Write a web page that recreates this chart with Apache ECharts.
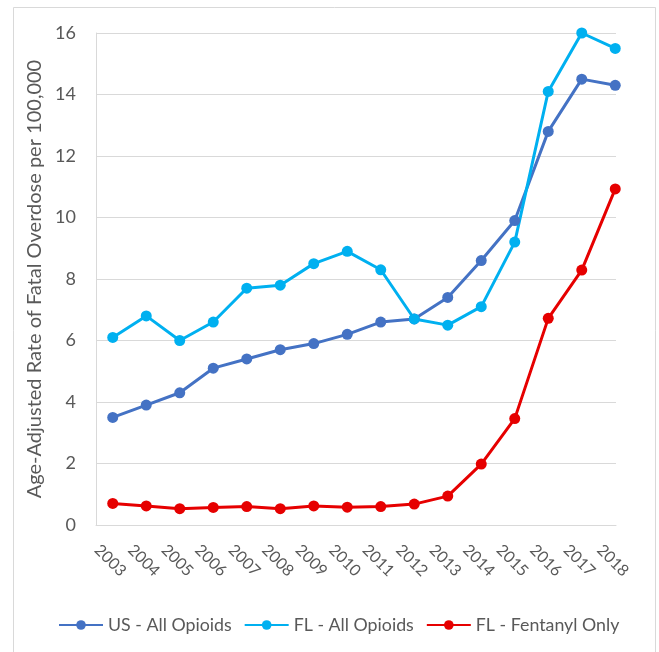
<!DOCTYPE html>
<html>
<head>
<meta charset="utf-8">
<script src="https://cdn.jsdelivr.net/npm/echarts@6/dist/echarts.min.js"></script>
<style>
  html, body { margin: 0; padding: 0; background: #fff; }
  #chart { width: 659px; height: 652px; }
</style>
</head>
<body>
<div id="chart"></div>
<script>
// Years on the category axis
const years = ['2003', '2004', '2005', '2006', '2007', '2008', '2009', '2010',
               '2011', '2012', '2013', '2014', '2015', '2016', '2017', '2018'];

// Age-adjusted fatal overdose rates per 100,000
const usAllOpioids = [3.5, 3.9, 4.3, 5.1, 5.4, 5.7, 5.9, 6.2, 6.6, 6.7, 7.4, 8.6, 9.9, 12.8, 14.5, 14.3];
const flAllOpioids = [6.1, 6.8, 6.0, 6.6, 7.7, 7.8, 8.5, 8.9, 8.3, 6.7, 6.5, 7.1, 9.2, 14.1, 16.0, 15.5];
const flFentanylOnly = [0.70, 0.62, 0.53, 0.57, 0.60, 0.53, 0.62, 0.58, 0.60, 0.68, 0.94, 1.98, 3.46, 6.72, 8.29, 10.93];

const seriesNames = ['US - All Opioids', 'FL - All Opioids', 'FL - Fentanyl Only'];
const seriesColors = ['#4472C4', '#00B0F0', '#E60000'];
const yTitle = 'Age-Adjusted Rate of Fatal Overdose per 100,000';

const FONT = 'Lato, "Liberation Sans", sans-serif';
const TEXT = '#595959';
const GRID = '#D9D9D9';

const chart = echarts.init(document.getElementById('chart'), null, { renderer: 'canvas' });

function lineSeries(name, data, color) {
  return {
    name: name,
    type: 'line',
    xAxisIndex: 0,
    yAxisIndex: 0,
    data: data,
    symbol: 'circle',
    symbolSize: 11,
    lineStyle: { width: 3, color: color },
    itemStyle: { color: color },
    emphasis: { disabled: true },
    animation: false
  };
}

chart.setOption({
  backgroundColor: '#fff',
  animation: false,
  graphic: [{
    type: 'rect',
    shape: { x: 13.5, y: 7.5, width: 642, height: 700 },
    style: { fill: 'none', stroke: GRID, lineWidth: 1 },
    silent: true,
    z: -10
  }],
  grid: [
    // data area: category bands
    { left: 96, top: 33, right: 27, bottom: 127 },
    // backdrop: gridlines and axis lines
    { left: 96, top: 33, right: 43, bottom: 127 }
  ],
  xAxis: [
    {
      type: 'category',
      gridIndex: 0,
      data: years,
      boundaryGap: true,
      axisLine: { show: false },
      axisTick: { show: false },
      splitLine: { show: false },
      axisLabel: {
        interval: 0,
        rotate: -45,
        align: 'center',
        verticalAlign: 'middle',
        padding: [7, 7, 0, 0],
        margin: 38,
        color: TEXT,
        fontFamily: FONT,
        fontSize: 16
      }
    },
    {
      type: 'value',
      gridIndex: 1,
      min: 0,
      max: 1,
      axisLine: { show: true, lineStyle: { color: GRID, width: 1 } },
      axisTick: { show: false },
      axisLabel: { show: false },
      splitLine: { show: false }
    }
  ],
  yAxis: [
    {
      type: 'value',
      gridIndex: 0,
      min: 0,
      max: 16,
      interval: 2,
      axisLine: { show: false },
      axisTick: { show: false },
      axisLabel: { show: false },
      splitLine: { show: false }
    },
    {
      type: 'value',
      gridIndex: 1,
      min: 0,
      max: 16,
      interval: 2,
      name: yTitle,
      nameLocation: 'middle',
      nameGap: 50,
      nameTextStyle: { color: TEXT, fontFamily: FONT, fontSize: 20 },
      axisLine: { show: true, lineStyle: { color: GRID, width: 1 } },
      axisTick: { show: false },
      axisLabel: { color: TEXT, fontFamily: FONT, fontSize: 18, margin: 20 },
      splitLine: { show: true, lineStyle: { color: GRID, width: 1 } }
    }
  ],
  legend: {
    data: seriesNames,
    left: 53,
    top: 611,
    itemWidth: 44,
    itemHeight: 12,
    itemGap: 12,
    textStyle: { color: TEXT, fontFamily: FONT, fontSize: 17.8 }
  },
  series: [
    lineSeries(seriesNames[0], usAllOpioids, seriesColors[0]),
    lineSeries(seriesNames[1], flAllOpioids, seriesColors[1]),
    lineSeries(seriesNames[2], flFentanylOnly, seriesColors[2])
  ]
});
</script>
</body>
</html>
